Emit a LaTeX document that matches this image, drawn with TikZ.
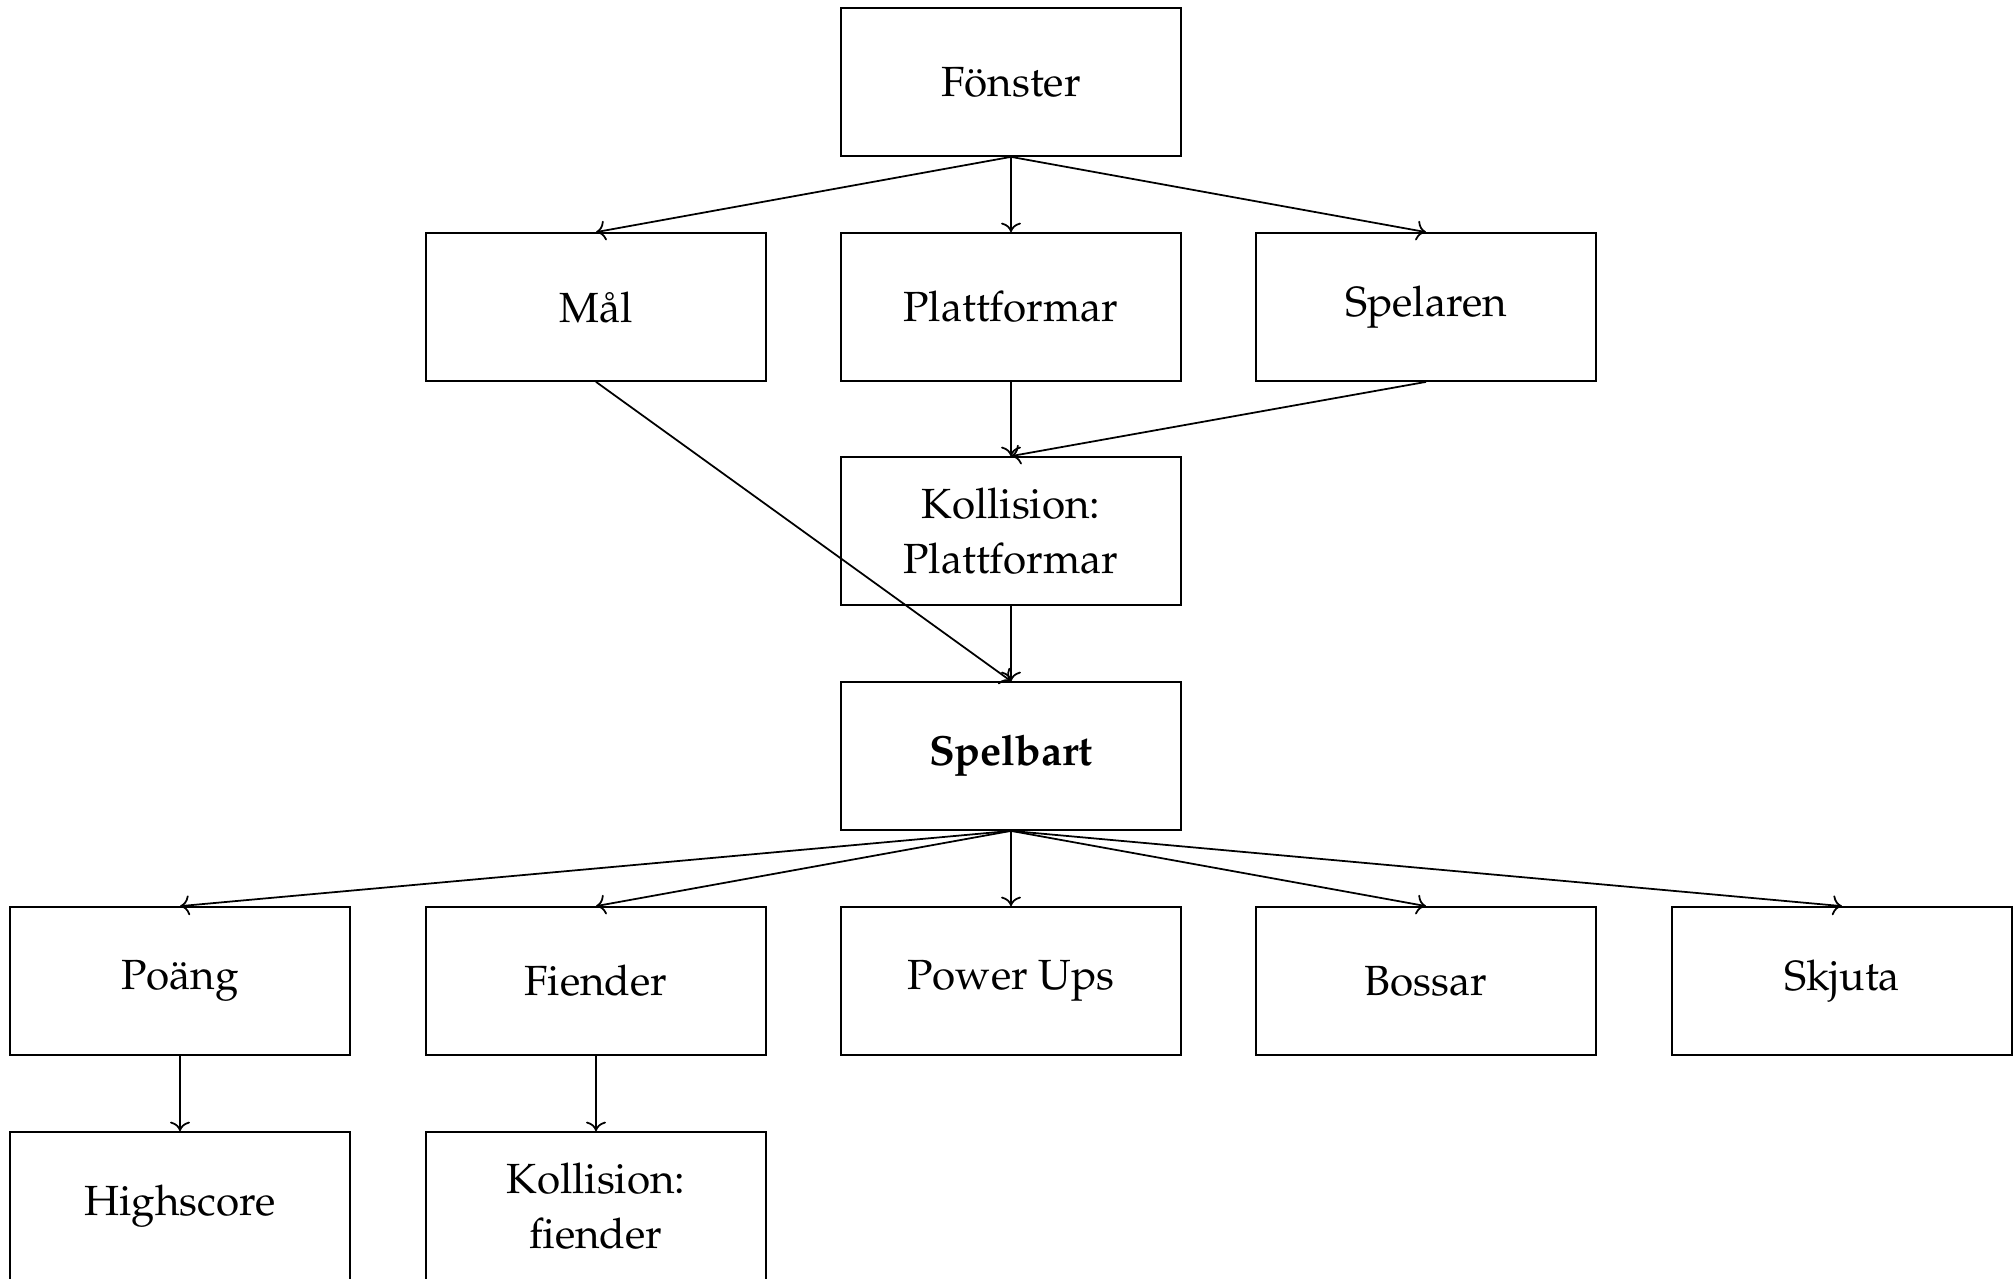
\documentclass[tikz,border=0pt]{standalone}
\usepackage[T1]{fontenc}
\usepackage{mathpazo}
\usepackage{tikz}
\usetikzlibrary{positioning,arrows.meta}

\tikzset{
    box/.style={draw, line width=0.5pt, minimum width=3.4cm, minimum height=1.48cm,
        align=center, font=\fontsize{12}{15.5}\selectfont},
    link/.style={->, line width=0.5pt}
}

\begin{document}
\begin{tikzpicture}
    \useasboundingbox (0,0) rectangle (20.15,-12.79);

    % Top rows
    \node [box] (fonster) at (10.11,-0.82) {F\"onster};
    \node [box] (mal) at (5.96,-3.07) {M\aa l};
    \node [box] (plattformar) at (10.11,-3.07) {Plattformar};
    \node [box] (spelaren) at (14.26,-3.07) {Spelaren};
    \node [box] (kollplatt) at (10.11,-5.31) {Kollision:\\Plattformar};
    \node [box] (spelbart) at (10.11,-7.56) {\textbf{Spelbart}};

    % Features
    \node [box] (poang) at (1.80,-9.81) {Po\"ang};
    \node [box] (fiender) at (5.96,-9.81) {Fiender};
    \node [box] (powerups) at (10.11,-9.81) {Power Ups};
    \node [box] (bossar) at (14.26,-9.81) {Bossar};
    \node [box] (skjuta) at (18.42,-9.81) {Skjuta};
    \node [box] (highscore) at (1.80,-12.06) {Highscore};
    \node [box] (kollfiender) at (5.96,-12.06) {Kollision:\\fiender};

    % Connections
    \draw [link] (fonster.south) -- (mal.north);
    \draw [link] (fonster.south) -- (plattformar.north);
    \draw [link] (fonster.south) -- (spelaren.north);
    \draw [link] (plattformar.south) -- (kollplatt.north);
    \draw [link] (spelaren.south) -- (kollplatt.north);
    \draw [link] (mal.south) -- (spelbart.north);
    \draw [link] (kollplatt.south) -- (spelbart.north);
    \foreach \n in {poang,fiender,powerups,bossar,skjuta}
        \draw [link] (spelbart.south) -- (\n.north);
    \draw [link] (poang.south) -- (highscore.north);
    \draw [link] (fiender.south) -- (kollfiender.north);
\end{tikzpicture}
\end{document}
